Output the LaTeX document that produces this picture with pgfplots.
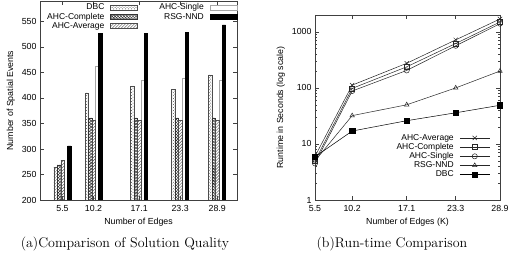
\documentclass[border=0pt]{standalone}
\usepackage{fontspec}
\newfontfamily\arialfont{Liberation Sans}
\usepackage{pgfplots}
\pgfplotsset{compat=1.18}
\usetikzlibrary{patterns}
\begin{document}
\begin{tikzpicture}
\path[use as bounding box] (0bp,0bp) rectangle (510bp,257bp);
\pgfplotsset{
 every axis/.append style={font=\arialfont\fontsize{8.8bp}{10bp}\selectfont,
   scale only axis, anchor=south west,
   axis line style={black!75, line width=0.5bp},
   tick style={black!75, line width=0.5bp},
   major tick length=4bp, minor tick length=2bp, tick align=inside,
   xticklabel style={yshift=-1.5bp}},
}
\begin{axis}[at={(40bp,57bp)}, width=197bp, height=199bp,
  xmin=2.1, xmax=31.9, ymin=200, ymax=590,
  xtick={5.5,10.2,17.1,23.3,28.9}, xticklabels={5.5,10.2,17.1,23.3,28.9},
  ytick={200,250,300,350,400,450,500,550},
  yticklabels={200,250,300,350,400,450,500,550},
  xlabel={Number of Edges}, ylabel={Number of Spatial Events},
  legend columns=2, legend cell align=right, legend plot pos=right,
  legend style={draw=none, fill=none, at={(1,1)}, anchor=north east,
    yshift=-2bp, inner sep=0pt, outer sep=0pt,
    nodes={inner sep=0.8bp}, row sep=0bp,
    font=\arialfont\fontsize{8.5bp}{9.5bp}\selectfont,
    /tikz/every odd column/.append style={column sep=5bp},
    /tikz/every even column/.append style={column sep=21bp}},
  legend image code/.code={\draw[#1] (0bp,-2.5bp) rectangle (27bp,2.5bp);}]
\addplot[ybar, bar width=3.4bp, bar shift=-6.8bp, draw=black!70, pattern=crosshatch dots, pattern color=black!70]
  coordinates {(5.5,265)(10.2,410)(17.1,424)(23.3,417)(28.9,445)};
\addlegendentry{DBC}
\addplot[ybar, bar width=3.4bp, bar shift=3.4bp, draw=black!35, fill=white]
  coordinates {(10.2,463)(17.1,435)(23.3,439)(28.9,435)};
\addlegendentry{AHC-Single}
\addplot[ybar, bar width=3.4bp, bar shift=-3.4bp, draw=black!80, pattern=crosshatch, pattern color=black!85]
  coordinates {(5.5,269)(10.2,361)(17.1,361)(23.3,361)(28.9,361)};
\addlegendentry{AHC-Complete}
\addplot[ybar, bar width=3.4bp, bar shift=6.8bp, draw=black, fill=black]
  coordinates {(5.5,306)(10.2,527)(17.1,527)(23.3,529)(28.9,543)};
\addlegendentry{RSG-NND}
\addplot[ybar, bar width=3.4bp, bar shift=0bp, draw=black!70, pattern=north east lines, pattern color=black!70]
  coordinates {(5.5,278)(10.2,356)(17.1,356)(23.3,356)(28.9,356)};
\addlegendentry{AHC-Average}
\end{axis}
\begin{axis}[at={(315bp,57bp)}, width=185bp, height=185bp, ymode=log,
  xmin=5.5, xmax=28.9, ymin=1, ymax=2000,
  xtick={5.5,10.2,17.1,23.3,28.9}, xticklabels={5.5,10.2,17.1,23.3,28.9},
  ytick={1,10,100,1000}, yticklabels={1,10,100,1000},
  xlabel={Number of Edges (K)}, ylabel={Runtime in Seconds (log scale)},
  legend cell align=right, legend plot pos=right,
  legend style={draw=none, fill=none, at={(0.946,0.36)}, anchor=north east,
    inner sep=0pt, outer sep=0pt, nodes={inner sep=0.8bp}, row sep=0bp,
    /tikz/every odd column/.append style={column sep=5bp},
    font=\arialfont\fontsize{8.5bp}{9.5bp}\selectfont},
  legend image code/.code={\draw[#1, mark repeat=2, mark phase=2] plot coordinates {(0bp,0bp)(15bp,0bp)(30bp,0bp)};}]
\addplot[black!85, line width=0.5bp, mark=x, mark size=3bp]
  coordinates {(5.5,6)(10.2,112)(17.1,275)(23.3,720)(28.9,1700)};
\addlegendentry{AHC-Average}
\addplot[black!85, line width=0.5bp, mark=square, mark size=2.5bp]
  coordinates {(5.5,5)(10.2,98)(17.1,238)(23.3,620)(28.9,1500)};
\addlegendentry{AHC-Complete}
\addplot[black!85, line width=0.5bp, mark=o, mark size=2.6bp]
  coordinates {(5.5,4.5)(10.2,88)(17.1,205)(23.3,565)(28.9,1400)};
\addlegendentry{AHC-Single}
\addplot[black!85, line width=0.5bp, mark=triangle, mark size=2.6bp]
  coordinates {(5.5,5)(10.2,32)(17.1,50)(23.3,100)(28.9,200)};
\addlegendentry{RSG-NND}
\addplot[black, line width=0.5bp, mark=square*, mark size=2.6bp]
  coordinates {(5.5,5.9)(10.2,17)(17.1,26)(23.3,36)(28.9,49)};
\addlegendentry{DBC}
\end{axis}
\node[font=\fontsize{14bp}{16bp}\selectfont] at (125bp,13bp) {(a)Comparison of Solution Quality};
\node[font=\fontsize{14bp}{16bp}\selectfont] at (392bp,13bp) {(b)Run-time Comparison};
\end{tikzpicture}
\end{document}
